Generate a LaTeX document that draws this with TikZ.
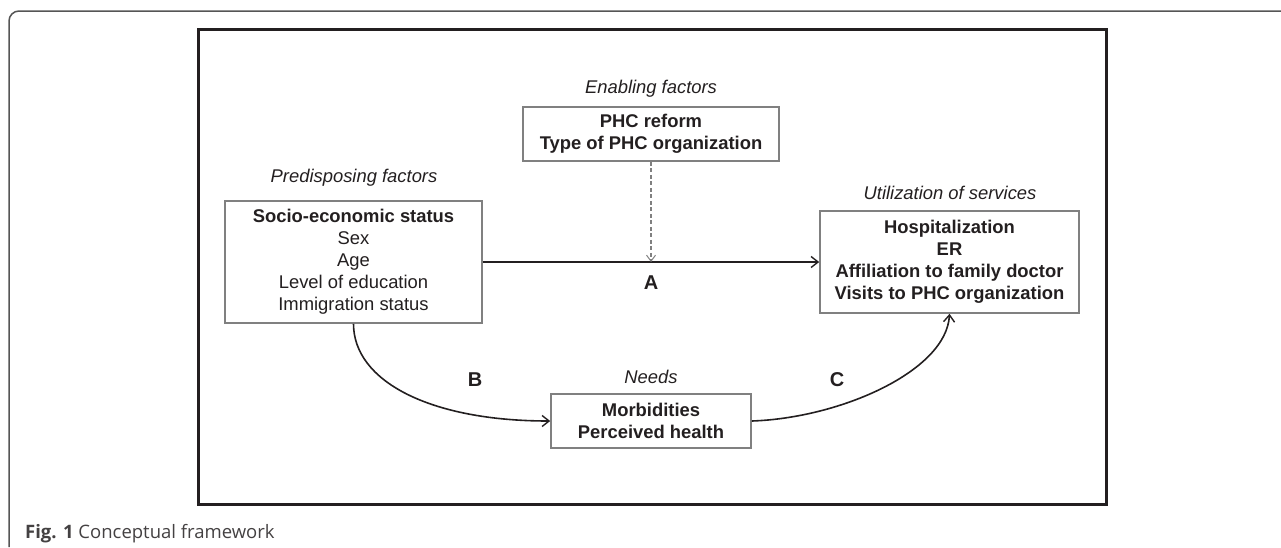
\documentclass[tikz,border=0pt]{standalone}
\usepackage{fontspec}
\setmainfont{Liberation Sans}
\newfontfamily\capfont{Open Sans}
\usetikzlibrary{arrows.meta}
\definecolor{boxgray}{HTML}{808080}
\definecolor{ink}{HTML}{231F20}
\definecolor{framegray}{HTML}{555555}
\begin{document}
\begin{tikzpicture}[x=1pt,y=-1pt,
  box/.style={draw=boxgray, line width=1.6pt, fill=white, inner sep=0pt, align=center, text=ink,
    font=\fontsize{18.4}{22}\selectfont\bfseries},
  lbl/.style={text=ink, font=\fontsize{18.4}{22}\selectfont\itshape, inner sep=0pt},
  conn/.style={draw=ink, line width=1.6pt, -{Straight Barb[length=7pt,width=11pt,line width=1.4pt]}},
  dconn/.style={draw=gray, line width=1.2pt, dash pattern=on 4pt off 2.5pt,
    -{Straight Barb[length=6pt,width=9pt,line width=1pt]}},
  letter/.style={text=ink, font=\fontsize{20}{24}\selectfont\bfseries, inner sep=0pt}]
\useasboundingbox (0,0) rectangle (1281,547);
% outer frame
\draw[framegray, line width=1.5pt, rounded corners=10pt] (9,547) -- (9,11) -- (1281,11);
% inner frame
\draw[ink, line width=3pt] (198,29) rectangle (1106,504);
% boxes
\node[box, minimum width=257pt, minimum height=122pt] (pred) at (353.5,262)
  {\textbf{Socio-economic status}\\\mdseries Sex\\\mdseries Age\\\mdseries Level of education\\\mdseries Immigration status};
\node[box, minimum width=256pt, minimum height=54pt] (enab) at (651,134)
  {PHC reform\\Type of PHC organization};
\node[box, minimum width=259pt, minimum height=102pt] (util) at (949.5,262)
  {Hospitalization\\ER\\Affiliation to family doctor\\Visits to PHC organization};
\node[box, minimum width=200pt, minimum height=54pt] (needs) at (651,421)
  {Morbidities\\Perceived health};
% labels
\node[lbl] (lpred) at (354,178) {Predisposing factors};
\node[lbl] (lenab) at (651,89) {Enabling factors};
\node[lbl] (lutil) at (950,193) {Utilization of services};
\node[lbl] (lneeds) at (651,377) {Needs};
% connectors
\coordinate (meet) at (enab.south |- pred.east);
\draw[conn] (pred.east) -- (util.west);
\draw[dconn] (enab.south) -- (meet);
\draw[conn] (pred.south) .. controls +(0,57) and +(-121,0) .. (needs.west);
\draw[conn] (needs.east) .. controls +(89,-3) and +(-3,57) .. (util.south);
% letters
\node[letter] (la) at (651,283) {A};
\node[letter] (lb) at (475,380) {B};
\node[letter] (lc) at (837,380) {C};
% caption
\node[anchor=base west, inner sep=0pt, text=ink!85, font=\capfont\fontsize{18.5}{22}\selectfont] (cap) at (25,538)
  {\textbf{Fig. 1} Conceptual framework};
\end{tikzpicture}
\end{document}
